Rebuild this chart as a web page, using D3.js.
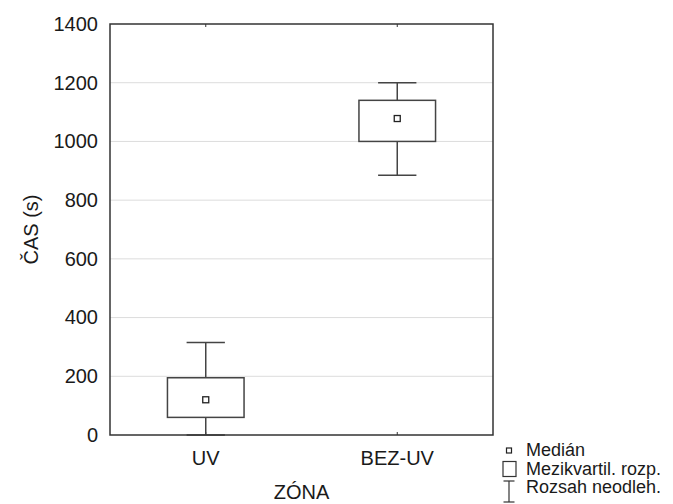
<!DOCTYPE html>
<html>
<head>
<meta charset="utf-8">
<script src="https://cdn.jsdelivr.net/npm/d3@7"></script>
<style>
  html, body { margin: 0; padding: 0; background: #fff; }
  svg { display: block; font-family: "Liberation Sans", Arial, sans-serif; }
</style>
</head>
<body>
<svg id="chart" width="673" height="504"></svg>
<script>
// Box-plot summary per zone (seconds)
const categories = ["UV", "BEZ-UV"];
const minimum  = [0, 885];
const quartile1 = [60, 1000];
const median   = [120, 1078];
const quartile3 = [195, 1140];
const maximum  = [315, 1200];
const yTicks = [0, 200, 400, 600, 800, 1000, 1200, 1400];
const legendLabels = ["Medián", "Mezikvartil. rozp.", "Rozsah neodleh."];

const svg = d3.select("#chart");
const margin = { left: 110, top: 24, right: 180, bottom: 69 };
const W = 673, H = 504;
const x0 = margin.left, x1 = W - margin.right;
const y0 = H - margin.bottom, y1 = margin.top;

const x = d3.scaleBand().domain(categories).range([x0, x1]).paddingInner(0.6).paddingOuter(0.3);
const y = d3.scaleLinear().domain([0, 1400]).range([y0, y1]);

const frameColor = "#333";
const boxColor = "#444";
const textColor = "#1a1a1a";

// horizontal grid
svg.append("g")
  .selectAll("line")
  .data(yTicks.filter(t => t > 0 && t < 1400))
  .join("line")
  .attr("x1", x0).attr("x2", x1)
  .attr("y1", d => y(d)).attr("y2", d => y(d))
  .attr("stroke", "#dcdcdc").attr("stroke-width", 1);

// y axis labels
const yAxis = d3.axisLeft(y).tickValues(yTicks).tickFormat(d3.format("d")).tickSize(0).tickPadding(12);
svg.append("g")
  .attr("transform", `translate(${x0},0)`)
  .call(yAxis)
  .call(g => g.select(".domain").remove())
  .call(g => g.selectAll("text")
    .attr("font-size", 20).attr("fill", textColor)
    .attr("font-family", "Liberation Sans, Arial, sans-serif"));

// x axis labels
const xAxis = d3.axisBottom(x).tickSize(0).tickPadding(16);
svg.append("g")
  .attr("transform", `translate(0,${y0})`)
  .call(xAxis)
  .call(g => g.select(".domain").remove())
  .call(g => g.selectAll("text")
    .attr("font-size", 20).attr("fill", textColor)
    .attr("font-family", "Liberation Sans, Arial, sans-serif"));

// small inward category ticks on top and bottom edges
categories.forEach(c => {
  const cx = x(c) + x.bandwidth() / 2;
  svg.append("line").attr("x1", cx).attr("x2", cx).attr("y1", y0).attr("y2", y0 - 3)
    .attr("stroke", frameColor).attr("stroke-width", 1);
  svg.append("line").attr("x1", cx).attr("x2", cx).attr("y1", y1).attr("y2", y1 + 3)
    .attr("stroke", frameColor).attr("stroke-width", 1);
});

// boxes
const g = svg.append("g");
categories.forEach((c, i) => {
  const cx = x(c) + x.bandwidth() / 2;
  const bw = x.bandwidth();
  const capW = bw / 2;
  // whiskers
  g.append("line").attr("x1", cx).attr("x2", cx)
    .attr("y1", y(maximum[i])).attr("y2", y(quartile3[i]))
    .attr("stroke", boxColor).attr("stroke-width", 1.5);
  g.append("line").attr("x1", cx).attr("x2", cx)
    .attr("y1", y(quartile1[i])).attr("y2", y(minimum[i]))
    .attr("stroke", boxColor).attr("stroke-width", 1.5);
  [maximum[i], minimum[i]].forEach(v => {
    g.append("line").attr("x1", cx - capW / 2).attr("x2", cx + capW / 2)
      .attr("y1", y(v)).attr("y2", y(v))
      .attr("stroke", boxColor).attr("stroke-width", 1.5);
  });
  // interquartile box
  g.append("rect")
    .attr("x", cx - bw / 2).attr("width", bw)
    .attr("y", y(quartile3[i])).attr("height", y(quartile1[i]) - y(quartile3[i]))
    .attr("fill", "#fff").attr("stroke", boxColor).attr("stroke-width", 1.5);
  // median marker
  g.append("rect")
    .attr("x", cx - 3).attr("y", y(median[i]) - 3)
    .attr("width", 6).attr("height", 6)
    .attr("fill", "#fff").attr("stroke", "#222").attr("stroke-width", 1.3);
});

// plot frame
svg.append("rect")
  .attr("x", x0).attr("y", y1).attr("width", x1 - x0).attr("height", y0 - y1)
  .attr("fill", "none").attr("stroke", frameColor).attr("stroke-width", 1.5);

// axis titles
svg.append("text")
  .attr("transform", `translate(38,${(y0 + y1) / 2}) rotate(-90)`)
  .attr("text-anchor", "middle")
  .attr("font-size", 20).attr("fill", textColor)
  .text("ČAS (s)");
svg.append("text")
  .attr("x", (x0 + x1) / 2).attr("y", 499)
  .attr("text-anchor", "middle")
  .attr("font-size", 20).attr("fill", textColor)
  .text("ZÓNA");

// legend
const lg = svg.append("g").attr("transform", "translate(509,0)");
const rowY = [456, 474.5, 493];
// median symbol
lg.append("rect").attr("x", -2.5).attr("y", rowY[0] - 8).attr("width", 5).attr("height", 5)
  .attr("fill", "#fff").attr("stroke", "#222").attr("stroke-width", 1.2);
// box symbol
lg.append("rect").attr("x", -6).attr("y", rowY[1] - 13).attr("width", 13).attr("height", 15)
  .attr("fill", "#fff").attr("stroke", "#333").attr("stroke-width", 1.2);
// whisker symbol
lg.append("line").attr("x1", -5.5).attr("x2", 5.5).attr("y1", rowY[2] - 12).attr("y2", rowY[2] - 12)
  .attr("stroke", "#333").attr("stroke-width", 1.2);
lg.append("line").attr("x1", 0).attr("x2", 0).attr("y1", rowY[2] - 12).attr("y2", rowY[2] + 9)
  .attr("stroke", "#333").attr("stroke-width", 1.2);
lg.append("line").attr("x1", -5.5).attr("x2", 5.5).attr("y1", rowY[2] + 9).attr("y2", rowY[2] + 9)
  .attr("stroke", "#333").attr("stroke-width", 1.2);
lg.selectAll("text.lbl")
  .data(legendLabels)
  .join("text")
  .attr("class", "lbl")
  .attr("x", 17).attr("y", (d, i) => rowY[i])
  .attr("font-size", 18).attr("fill", textColor)
  .text(d => d);
</script>
</body>
</html>
